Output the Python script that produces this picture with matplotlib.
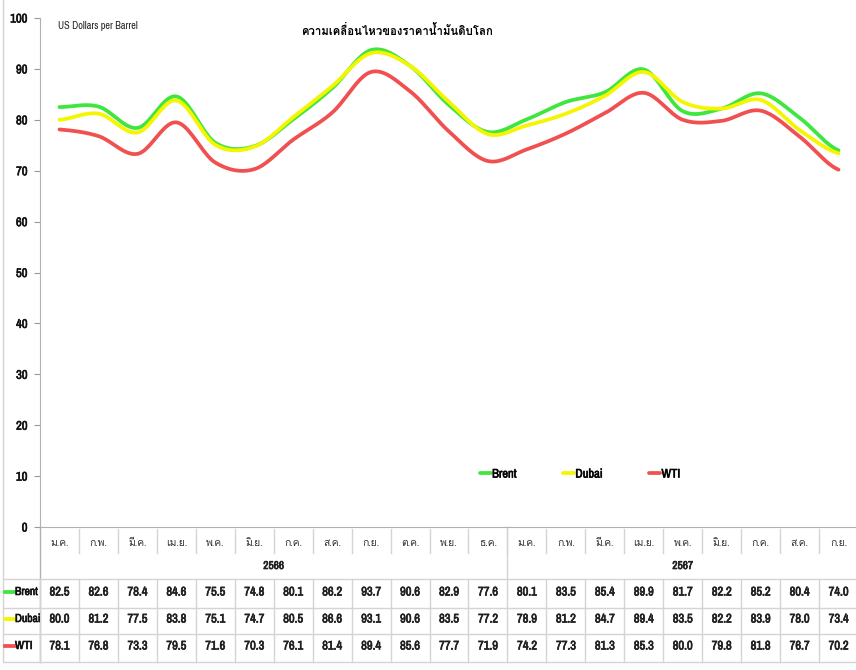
import matplotlib.pyplot as plt
import matplotlib.patheffects as pe
import numpy as np
from matplotlib import font_manager
from matplotlib.ft2font import FT2Font
from matplotlib.lines import Line2D

months = ["ม.ค.", "ก.พ.", "มี.ค.", "เม.ย.", "พ.ค.", "มิ.ย.", "ก.ค.", "ส.ค.", "ก.ย.", "ต.ค.", "พ.ย.", "ธ.ค.",
          "ม.ค.", "ก.พ.", "มี.ค.", "เม.ย.", "พ.ค.", "มิ.ย.", "ก.ค.", "ส.ค.", "ก.ย."]
years = ["2566", "2567"]
year_spans = [(0, 11), (12, 20)]
brent = [82.5, 82.6, 78.4, 84.6, 75.5, 74.8, 80.1, 86.2, 93.7, 90.6, 82.9, 77.6,
         80.1, 83.5, 85.4, 89.9, 81.7, 82.2, 85.2, 80.4, 74.0]
dubai = [80.0, 81.2, 77.5, 83.8, 75.1, 74.7, 80.5, 86.6, 93.1, 90.6, 83.5, 77.2,
         78.9, 81.2, 84.7, 89.4, 83.5, 82.2, 83.9, 78.0, 73.4]
wti = [78.1, 76.8, 73.3, 79.5, 71.6, 70.3, 76.1, 81.4, 89.4, 85.6, 77.7, 71.9,
       74.2, 77.3, 81.3, 85.3, 80.0, 79.8, 81.8, 76.7, 70.2]
series = [("Brent", brent, "#3ee63e"), ("Dubai", dubai, "#f5f500"), ("WTI", wti, "#f05050")]


def find_thai_font():
    for f in font_manager.fontManager.ttflist:
        try:
            if FT2Font(f.fname).get_char_index(0x0E01):
                return f.name
        except Exception:
            pass
    return "DejaVu Sans"


def find_narrow_font():
    for f in font_manager.fontManager.ttflist:
        nm = f.name.lower()
        if ("narrow" in nm or "condensed" in nm) and "mono" not in nm:
            return f.name
    return None


thai = find_thai_font()
narrow = find_narrow_font()
fam = ([narrow] if narrow else []) + ["Liberation Sans", thai, "DejaVu Sans"]
plt.rcParams["font.family"] = fam
sz = 9 if narrow else 7.6
# fake bold for the narrow face
fat = [pe.withStroke(linewidth=0.45, foreground="#111111")] if narrow else []


def smooth(y, n=20):
    # catmull-rom like excel smoothed line
    y = np.asarray(y, float)
    p = np.concatenate([[y[0]], y, [y[-1]]])
    xs, ys = [], []
    for i in range(len(y) - 1):
        p0, p1, p2, p3 = p[i], p[i + 1], p[i + 2], p[i + 3]
        t = np.linspace(0, 1, n, endpoint=False)
        v = 0.5 * (2 * p1 + (-p0 + p2) * t + (2 * p0 - 5 * p1 + 4 * p2 - p3) * t ** 2
                   + (-p0 + 3 * p1 - 3 * p2 + p3) * t ** 3)
        xs.append(i + t)
        ys.append(v)
    xs.append([len(y) - 1])
    ys.append([y[-1]])
    return np.concatenate(xs), np.concatenate(ys)


W, H = 856, 670
fig = plt.figure(figsize=(W / 100, H / 100), dpi=100)
L, R, T, B = 40, 858, 18, 527
ax = fig.add_axes([L / W, 1 - B / H, (R - L) / W, (B - T) / H])
n = len(months)
ax.set_xlim(-0.5, n - 0.5)
ax.set_ylim(0, 100)

for name, vals, col in series:
    xs, ys = smooth(vals)
    ax.plot(xs, ys, color=col, lw=2.7, label=name, solid_capstyle="round")

ax.set_yticks(range(0, 101, 10))
ax.set_yticklabels([str(v) for v in range(0, 101, 10)], fontweight="bold", fontsize=sz, color="#111111")
for t in ax.get_yticklabels():
    t.set_path_effects(fat)
ax.set_xticks([])
ax.tick_params(axis="y", length=4, color="#999999", pad=5)
for s in ["top", "right"]:
    ax.spines[s].set_visible(False)
ax.spines["left"].set_color("#b0b0b0")
ax.spines["bottom"].set_color("#b0b0b0")

ax.text(18 / (R - L), 0.985, "US Dollars per Barrel", transform=ax.transAxes,
        fontsize=sz - 1.6, va="center", ha="left", color="#222222")
fig.text(397 / W, 1 - 30 / H, "ความเคลื่อนไหวของราคาน้ำมันดิบโลก", ha="center", va="center",
         fontsize=8.2, fontweight="bold", family=[thai, "DejaVu Sans"])

leg = ax.legend(loc="center", bbox_to_anchor=(0.66, 10.4 / 100), ncol=3, frameon=False,
                handlelength=0.9, handletextpad=0.1, columnspacing=3.7,
                prop={"weight": "bold", "size": sz, "family": fam})
for h in leg.get_lines():
    h.set_linewidth(2.7)
for t in leg.get_texts():
    t.set_path_effects(fat)

# table below the axis
xt = ax.get_xaxis_transform()


def fy(py):
    return (B - py) / (B - T)


def figy(py):
    return 1 - py / H


grid = "#d4d4d4"
for py in [579, 608, 634, 662]:
    fig.add_artist(Line2D([4 / W, 1], [figy(py), figy(py)], transform=fig.transFigure, color=grid, lw=1))
fig.add_artist(Line2D([3 / W, 3 / W], [figy(0), figy(662)], transform=fig.transFigure, color=grid, lw=1))
ax.add_line(Line2D([-0.5, -0.5], [fy(B), fy(662)], transform=xt, color="#b0b0b0", lw=1, clip_on=False))
for k in range(n + 1):
    ax.add_line(Line2D([k - 0.5, k - 0.5], [fy(579), fy(662)], transform=xt, color=grid, lw=1, clip_on=False))
for k in range(1, n):
    ax.add_line(Line2D([k - 0.5, k - 0.5], [fy(529), fy(553)], transform=xt, color=grid, lw=1, clip_on=False))
ax.add_line(Line2D([11.5, 11.5], [fy(B), fy(579)], transform=xt, color=grid, lw=1, clip_on=False))

for i, m in enumerate(months):
    ax.text(i, fy(543), m, transform=xt, ha="center", va="center", fontsize=7.5, color="#333333")
for yr, (a, b) in zip(years, year_spans):
    ax.text((a + b) / 2, fy(566), yr, transform=xt, ha="center", va="center", fontsize=sz - 0.8,
            fontweight="bold", color="#222222", path_effects=fat)

row_y = [592, 619, 646]
for (name, vals, col), py in zip(series, row_y):
    fig.add_artist(Line2D([5 / W, 15 / W], [figy(py), figy(py)], transform=fig.transFigure, color=col, lw=2.7))
    fig.text(15 / W, figy(py), name, ha="left", va="center", fontsize=sz - 0.6, fontweight="bold",
             color="#111111", path_effects=fat)
    for i, v in enumerate(vals):
        ax.text(i, fy(py), f"{v:.1f}", transform=xt, ha="center", va="center", fontsize=sz, fontweight="bold",
                color="#222222", path_effects=fat)

fig.savefig("out.png", dpi=100)
